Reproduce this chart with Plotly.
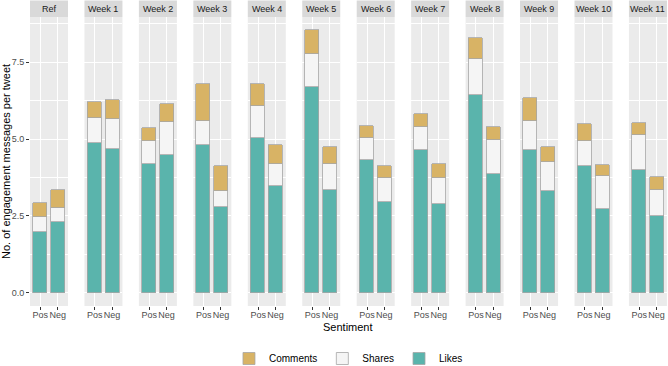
import plotly.graph_objects as go

panels = ["Ref", "Week 1", "Week 2", "Week 3", "Week 4", "Week 5", "Week 6",
          "Week 7", "Week 8", "Week 9", "Week 10", "Week 11"]
sentiments = ["Pos", "Neg"]

likes_pos = [1.97, 4.87, 4.19, 4.80, 5.04, 6.70, 4.31, 4.65, 6.44, 4.66, 4.12, 3.99]
likes_neg = [2.29, 4.67, 4.49, 2.80, 3.47, 3.34, 2.96, 2.89, 3.87, 3.32, 2.71, 2.51]
shares_pos = [0.49, 0.83, 0.74, 0.78, 1.05, 1.05, 0.73, 0.75, 1.17, 0.94, 0.83, 1.14]
shares_neg = [0.48, 0.99, 1.07, 0.51, 0.73, 0.86, 0.78, 0.85, 1.11, 0.92, 1.10, 0.83]
comments_pos = [0.45, 0.50, 0.42, 1.20, 0.69, 0.79, 0.40, 0.41, 0.67, 0.73, 0.53, 0.38]
comments_neg = [0.57, 0.60, 0.57, 0.80, 0.60, 0.54, 0.38, 0.44, 0.41, 0.49, 0.35, 0.43]

y_ticks = [0, 2.5, 5, 7.5]
y_tick_labels = ["0.0", "2.5", "5.0", "7.5"]

colors = {"Likes": "#5ab4ac", "Shares": "#f5f5f5", "Comments": "#d8b365"}
series = [("Likes", likes_pos, likes_neg),
          ("Shares", shares_pos, shares_neg),
          ("Comments", comments_pos, comments_neg)]

W, H = 668, 366
ml, mr, mt, mb = 30, 1, 17, 60
pw = W - ml - mr
ph = H - mt - mb
step, width = 54.45, 38.0

fig = go.Figure()
font = "Liberation Sans, Arial, sans-serif"

for i, name in enumerate(panels):
    k = "" if i == 0 else str(i + 1)
    xa, ya = "x" + k, "y" + k
    for sname, pos, neg in series:
        fig.add_trace(go.Bar(
            x=[1, 2], y=[pos[i], neg[i]], name=sname, width=0.82,
            marker=dict(color=colors[sname], line=dict(color="#a6a6a6", width=0.8)),
            xaxis=xa, yaxis=ya, legendgroup=sname, showlegend=(i == 0),
            legendrank={"Comments": 1, "Shares": 2, "Likes": 3}[sname],
        ))
    x0 = step * i / pw
    x1 = (step * i + width) / pw
    fig.layout["xaxis" + k] = dict(
        domain=[x0, x1], range=[0.4, 2.6], anchor=ya,
        tickvals=[1, 2], ticktext=sentiments, ticks="outside", ticklen=3,
        tickangle=0, automargin=False, ticklabelstandoff=-3,
        tickcolor="#333333", tickfont=dict(size=9, color="#4d4d4d"),
        showgrid=True, gridcolor="white", gridwidth=1, zeroline=False,
        fixedrange=True,
    )
    fig.layout["yaxis" + k] = dict(
        domain=[0, 1], range=[-0.427, 8.967], anchor=xa, automargin=False,
        tickvals=y_ticks, ticktext=y_tick_labels,
        showticklabels=(i == 0), ticks="outside" if i == 0 else "",
        ticklen=3, tickcolor="#333333", tickfont=dict(size=9, color="#4d4d4d"),
        showgrid=True, gridcolor="white", gridwidth=1, zeroline=False,
        minor=dict(tickvals=[1.25, 3.75, 6.25, 8.75], showgrid=True,
                   gridcolor="white", gridwidth=0.5),
        fixedrange=True,
    )
    fig.add_shape(type="rect", xref="paper", yref="paper",
                  x0=x0, x1=x1, y0=0, y1=1, fillcolor="#ebebeb",
                  line=dict(width=0), layer="below")
    fig.add_shape(type="rect", xref="paper", yref="paper",
                  x0=x0, x1=x1, y0=1, y1=1 + 16.5 / ph, fillcolor="#d9d9d9",
                  line=dict(width=0))
    fig.add_annotation(x=(x0 + x1) / 2, y=1 + 8.5 / ph, xref="paper", yref="paper",
                       text=name, showarrow=False, xanchor="center", yanchor="middle",
                       font=dict(size=9, color="#1a1a1a"))

fig.add_annotation(x=0.5 * (width + 11 * step) / pw, y=-13 / ph, xref="paper", yref="paper",
                   text="Sentiment", showarrow=False, xanchor="center", yanchor="top",
                   font=dict(size=11, color="black"))
fig.add_annotation(x=-24.5 / pw, y=0.5, xref="paper", yref="paper",
                   text="No. of engagement messages per tweet", showarrow=False,
                   textangle=-90, xanchor="center", yanchor="middle",
                   font=dict(size=11, color="black"))

fig.update_layout(
    width=W, height=H, barmode="stack",
    margin=dict(l=ml, r=mr, t=mt, b=mb, autoexpand=False),
    paper_bgcolor="white", plot_bgcolor="rgba(0,0,0,0)",
    font=dict(family=font),
    legend=dict(orientation="h", x=0.5 * (width + 11 * step) / pw, xanchor="center",
                y=-38 / ph, yanchor="top",
                font=dict(size=10, color="black"), itemwidth=30,
                traceorder="normal"),
    bargap=0,
)

fig.write_html("out.html", config={"displayModeBar": False},
               post_script="document.body.style.margin='0';document.body.style.overflow='hidden';")
